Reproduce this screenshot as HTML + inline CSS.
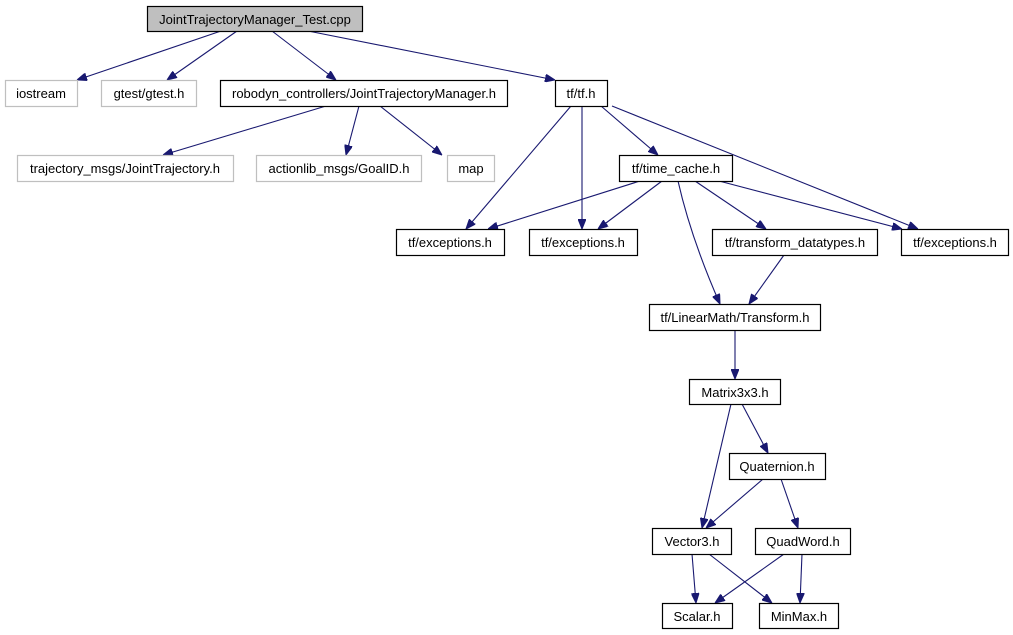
<!DOCTYPE html>
<html><head><meta charset="utf-8"><style>
html,body{margin:0;padding:0;background:#fff;}
svg{display:block;}
text{font-family:"Liberation Sans",sans-serif;font-size:13px;fill:#000;}
</style></head><body>
<svg width="1013" height="635" viewBox="0 0 1013 635" xmlns="http://www.w3.org/2000/svg">
<defs>
<marker id="a" markerWidth="10" markerHeight="8" refX="10" refY="4" orient="auto" markerUnits="userSpaceOnUse">
<path d="M0,0 L10,4 L0,8 Z" fill="#191970" stroke="#191970"/>
</marker>
</defs>
<g stroke="#191970" stroke-width="1.1" fill="none" marker-end="url(#a)">
<line x1="221" y1="31" x2="77" y2="80"/>
<line x1="237" y1="31" x2="167" y2="80"/>
<line x1="272" y1="31" x2="336" y2="80"/>
<line x1="308" y1="31" x2="555" y2="80"/>
<line x1="326" y1="106" x2="163" y2="155"/>
<line x1="359" y1="106" x2="346" y2="155"/>
<line x1="380" y1="106" x2="442" y2="155"/>
<line x1="571" y1="106" x2="466" y2="229"/>
<line x1="582" y1="106" x2="582" y2="229"/>
<line x1="601" y1="106" x2="658" y2="155"/>
<line x1="612" y1="106" x2="918" y2="229"/>
<line x1="640" y1="181" x2="488" y2="229"/>
<line x1="662" y1="181" x2="598" y2="229"/>
<path d="M678,181 C688,225 705,270 720,304"/>
<line x1="695" y1="181" x2="766" y2="229"/>
<line x1="719" y1="181" x2="902" y2="229"/>
<line x1="784" y1="255" x2="749" y2="304"/>
<line x1="735" y1="330" x2="735" y2="379"/>
<line x1="731" y1="404" x2="702" y2="528"/>
<line x1="742" y1="404" x2="768" y2="453"/>
<line x1="763" y1="479" x2="706" y2="528"/>
<line x1="781" y1="479" x2="798" y2="528"/>
<line x1="692" y1="554" x2="696" y2="603"/>
<line x1="709" y1="554" x2="772" y2="603"/>
<line x1="784" y1="554" x2="715" y2="603"/>
<line x1="802" y1="554" x2="800" y2="603"/>
</g>
<g stroke-width="1.2">
<rect x="147.5" y="6.5" width="215" height="25" fill="#bfbfbf" stroke="#000"/>
<rect x="5.5" y="80.5" width="72" height="26" fill="#fff" stroke="#bfbfbf"/>
<rect x="101.5" y="80.5" width="95" height="26" fill="#fff" stroke="#bfbfbf"/>
<rect x="220.5" y="80.5" width="287" height="26" fill="#fff" stroke="#000"/>
<rect x="555.5" y="80.5" width="52" height="26" fill="#fff" stroke="#000"/>
<rect x="17.5" y="155.5" width="216" height="26" fill="#fff" stroke="#bfbfbf"/>
<rect x="256.5" y="155.5" width="165" height="26" fill="#fff" stroke="#bfbfbf"/>
<rect x="447.5" y="155.5" width="47" height="26" fill="#fff" stroke="#bfbfbf"/>
<rect x="619.5" y="155.5" width="113" height="26" fill="#fff" stroke="#000"/>
<rect x="396.5" y="229.5" width="108" height="26" fill="#fff" stroke="#000"/>
<rect x="529.5" y="229.5" width="108" height="26" fill="#fff" stroke="#000"/>
<rect x="712.5" y="229.5" width="165" height="26" fill="#fff" stroke="#000"/>
<rect x="901.5" y="229.5" width="107" height="26" fill="#fff" stroke="#000"/>
<rect x="649.5" y="304.5" width="171" height="26" fill="#fff" stroke="#000"/>
<rect x="689.5" y="379.5" width="91" height="25" fill="#fff" stroke="#000"/>
<rect x="729.5" y="453.5" width="96" height="26" fill="#fff" stroke="#000"/>
<rect x="652.5" y="528.5" width="79" height="26" fill="#fff" stroke="#000"/>
<rect x="755.5" y="528.5" width="95" height="26" fill="#fff" stroke="#000"/>
<rect x="662.5" y="603.5" width="70" height="25" fill="#fff" stroke="#000"/>
<rect x="759.5" y="603.5" width="79" height="25" fill="#fff" stroke="#000"/>
</g>
<g text-anchor="middle">
<text x="255" y="24">JointTrajectoryManager_Test.cpp</text>
<text x="41" y="98">iostream</text>
<text x="149" y="98">gtest/gtest.h</text>
<text x="364" y="98">robodyn_controllers/JointTrajectoryManager.h</text>
<text x="581" y="98">tf/tf.h</text>
<text x="125" y="173">trajectory_msgs/JointTrajectory.h</text>
<text x="339" y="173">actionlib_msgs/GoalID.h</text>
<text x="471" y="173">map</text>
<text x="676" y="173">tf/time_cache.h</text>
<text x="450" y="247">tf/exceptions.h</text>
<text x="583" y="247">tf/exceptions.h</text>
<text x="795" y="247">tf/transform_datatypes.h</text>
<text x="955" y="247">tf/exceptions.h</text>
<text x="735" y="322">tf/LinearMath/Transform.h</text>
<text x="735" y="397">Matrix3x3.h</text>
<text x="777" y="471">Quaternion.h</text>
<text x="692" y="546">Vector3.h</text>
<text x="803" y="546">QuadWord.h</text>
<text x="697" y="621">Scalar.h</text>
<text x="799" y="621">MinMax.h</text>
</g>
</svg>
</body></html>
